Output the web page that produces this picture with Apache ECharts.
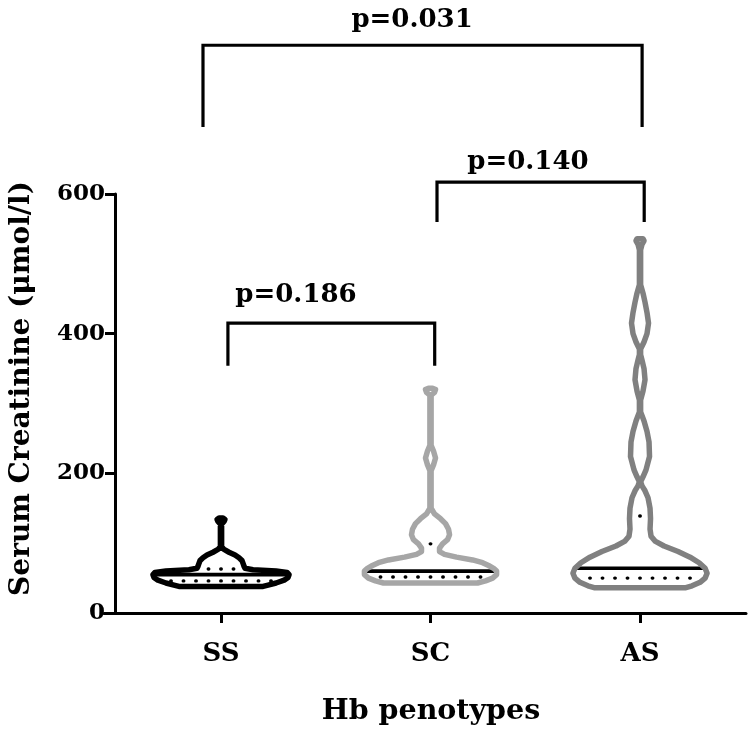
<!DOCTYPE html>
<html>
<head>
<meta charset="utf-8">
<script src="https://cdn.jsdelivr.net/npm/echarts@6/dist/echarts.min.js"></script>
<style>
  html, body { margin: 0; padding: 0; background: #fff; }
  #chart { width: 750px; height: 734px; }
</style>
</head>
<body>
<div id="chart"></div>
<script>
// ---------- data ----------
const categories = ['SS', 'SC', 'AS'];

// violin outlines: serum creatinine values and relative density (half-width) at each value
const ssValues = [136, 134, 131, 127, 95, 91, 87, 83, 79, 75, 71, 67, 64, 62, 60, 58, 55, 51, 47, 43, 40, 38];
const ssDensity = [2, 4, 3, 0.6, 0.6, 3, 8, 14, 18, 21, 22, 23, 24, 32, 55, 66, 68, 67, 63, 55, 47, 42];

const scValues = [322, 320, 316, 312, 240, 232, 222, 212, 204, 150, 142, 135, 128, 120, 112, 105, 99, 93, 88, 84, 80, 76, 72, 68, 64, 60, 55, 50, 46, 43];
const scDensity = [2, 5, 4, 0.6, 0.6, 3, 5, 3, 0.6, 0.6, 4, 10, 15, 18, 19, 17, 12, 9, 9, 14, 26, 42, 52, 58, 63, 66, 66, 62, 55, 47];

const asValues = [536, 533, 528, 520, 470, 458, 445, 430, 415, 400, 388, 378, 370, 362, 350, 334, 318, 305, 296, 288, 275, 260, 245, 224, 205, 195, 188, 182, 175, 165, 150, 135, 120, 110, 103, 96, 88, 80, 72, 64, 57, 50, 44, 39, 36];
const asDensity = [3, 4, 2, 0.6, 0.6, 3, 5, 7, 8.5, 7, 4, 0.6, 0.6, 2, 4, 5, 3, 0.6, 0.6, 0.6, 4, 7, 9, 9.5, 6, 3, 0.6, 2, 5, 8, 10, 10.5, 10, 11, 15, 24, 38, 50, 59, 65, 67, 65, 60, 52, 45];

const medians = [55, 60, 64];
const quartile1 = [46, 51.5, 50];
const quartile3 = [63, 99, 139];

// significance brackets
const pLabels = ['p=0.186', 'p=0.140', 'p=0.031'];
const bracketLeft = [1.033, 2.031, 0.914];
const bracketRight = [2.02, 3.02, 3.01];
const bracketTop = [415, 617, 813];
const bracketLeg = [354, 560, 696];
const pLabelX = [1.358, 2.465, 1.912];
const pLabelY = [455, 646, 849];

// ---------- chart ----------
const FONT = 'DejaVu Serif';
const violinValues = [ssValues, scValues, asValues];
const violinDensity = [ssDensity, scDensity, asDensity];
const violinColors = ['#000000', '#a6a6a6', '#808080'];
const HALF_MAX = 0.325;   // data-units half width for density 68
const DENS_MAX = 68;

function densAt(vals, dens, v) {
  for (let i = 0; i < vals.length - 1; i++) {
    const a = vals[i], b = vals[i + 1];
    if ((v <= a && v >= b)) {
      const t = (a - v) / (a - b);
      return dens[i] + t * (dens[i + 1] - dens[i]);
    }
  }
  return 0;
}

function renderViolin(params, api) {
  const i = params.dataIndex;
  const cx = api.value(0);
  const vals = violinValues[i], dens = violinDensity[i];
  const pts = [];
  for (let k = 0; k < vals.length; k++) {
    pts.push(api.coord([cx + dens[k] / DENS_MAX * HALF_MAX, vals[k]]));
  }
  for (let k = vals.length - 1; k >= 0; k--) {
    pts.push(api.coord([cx - dens[k] / DENS_MAX * HALF_MAX, vals[k]]));
  }
  const children = [];
  const center = api.coord([cx, 0])[0];
  const unitPx = api.coord([cx + 1, 0])[0] - center;
  function hwPx(v) { return densAt(vals, dens, v) / DENS_MAX * HALF_MAX * unitPx; }

  // median (solid)
  const my = api.coord([cx, medians[i]])[1];
  const mh = Math.max(hwPx(medians[i]) - 2, 0);
  children.push({
    type: 'line',
    shape: { x1: center - mh, y1: my, x2: center + mh, y2: my },
    style: { stroke: '#000', lineWidth: 3.6 }
  });
  // quartiles (dotted, symmetric around centre)
  const spacing = 12.5;
  [quartile1[i], quartile3[i]].forEach(function (q) {
    const qy = api.coord([cx, q])[1];
    const n = Math.max(Math.floor((hwPx(q) - 3) / spacing), 0);
    const half = n * spacing;
    children.push({
      type: 'line',
      shape: { x1: center - half - 0.25, y1: qy, x2: center + half + 0.5, y2: qy },
      style: { stroke: '#000', lineWidth: 3.4, lineDash: [0.5, spacing - 0.5], lineCap: 'round' }
    });
  });
  children.push({
    type: 'polygon',
    shape: { points: pts },
    style: { fill: 'none', stroke: violinColors[i], lineWidth: 5.5, lineJoin: 'round' }
  });
  return { type: 'group', children: children };
}

const bracketSeries = pLabels.map(function (lab, j) {
  return {
    type: 'line',
    clip: false,
    silent: true,
    symbol: 'none',
    lineStyle: { color: '#000', width: 3.2, cap: 'butt', join: 'miter', opacity: 1 },
    data: [
      [bracketLeft[j], bracketLeg[j]],
      [bracketLeft[j], bracketTop[j]],
      [bracketRight[j], bracketTop[j]],
      [bracketRight[j], bracketLeg[j]]
    ]
  };
});

const labelSeries = {
  type: 'scatter',
  clip: false,
  silent: true,
  symbolSize: 0,
  itemStyle: { opacity: 1 },
  data: pLabels.map(function (lab, j) { return { value: [pLabelX[j], pLabelY[j]], name: lab }; }),
  label: {
    show: true,
    position: 'inside',
    formatter: function (p) { return p.name; },
    fontFamily: FONT,
    fontWeight: 'bold',
    fontSize: 26,
    color: '#000',
    opacity: 1
  }
};

const chart = echarts.init(document.getElementById('chart'), null, { renderer: 'canvas' });
chart.setOption({
  animation: false,
  backgroundColor: '#fff',
  grid: { left: 104, right: 4, top: 194, bottom: 121 },
  xAxis: {
    type: 'value',
    min: 0.4415,
    max: 3.5059,
    name: 'Hb penotypes',
    nameLocation: 'middle',
    nameGap: 84,
    nameTextStyle: { fontFamily: FONT, fontWeight: 'bold', fontSize: 28.5, color: '#000', padding: [0, 0, 0, 12] },
    axisLine: { show: true, lineStyle: { color: '#000', width: 3 } },
    axisTick: { show: true, customValues: [1, 2, 3], length: 10, lineStyle: { color: '#000', width: 3 } },
    axisLabel: {
      customValues: [1, 2, 3],
      formatter: function (v) { return categories[Math.round(v) - 1] || ''; },
      fontFamily: FONT, fontWeight: 'bold', fontSize: 26, color: '#000', margin: 28
    },
    splitLine: { show: false }
  },
  yAxis: {
    type: 'value',
    min: 0,
    max: 600,
    interval: 200,
    offset: -11,
    name: 'Serum Creatinine (μmol/l)',
    nameLocation: 'middle',
    nameGap: 79,
    nameTextStyle: { fontFamily: FONT, fontWeight: 'bold', fontSize: 28, color: '#000', padding: [0, 0, 0, 30] },
    axisLine: { show: true, lineStyle: { color: '#000', width: 3 } },
    axisTick: { show: true, length: 10, lineStyle: { color: '#000', width: 3 } },
    axisLabel: { fontFamily: FONT, fontWeight: 'bold', fontSize: 23, color: '#000', margin: 10 },
    splitLine: { show: false }
  },
  series: [
    {
      type: 'custom',
      renderItem: renderViolin,
      data: categories.map(function (c, i) { return [i + 1]; }),
      encode: { x: 0 },
      silent: true,
      z: 3
    }
  ].concat(bracketSeries).concat([labelSeries])
});
</script>
</body>
</html>
